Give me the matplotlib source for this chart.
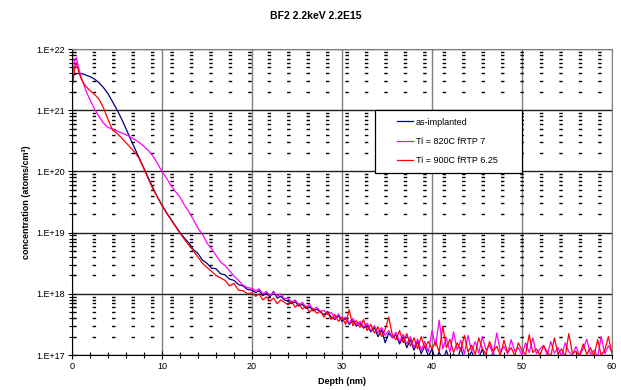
"""
BF2 2.2keV 2.2E15 - SIMS profiles, as-implanted vs. two fRTP anneals.
"""
import matplotlib
matplotlib.use("Agg")
import matplotlib.pyplot as plt
import numpy as np
from matplotlib.legend_handler import HandlerLine2D
from matplotlib.ticker import FixedLocator, FixedFormatter

plt.rcParams["font.family"] = ["Liberation Sans", "DejaVu Sans"]

TITLE = "BF2 2.2keV 2.2E15"
LABELS = ["as-implanted", "Ti = 820C fRTP 7", "Ti = 900C fRTP 6.25"]
COLORS = ["#000080", "#FF00FF", "#FF0000"]

# depth (nm): near-surface part, then the noisy tail on a 0.4 nm grid
depth_head = [0.1, 0.3, 0.5, 0.7, 1.0, 1.3, 1.6, 2.0, 2.5, 3.0, 3.5, 4.0, 4.5,
              5.0, 5.5, 6.0, 6.5, 7.0, 7.5, 8.0, 8.5, 9.0, 9.5, 10.0, 10.5,
              11.0, 11.5, 12.0, 12.5, 13.0, 13.5, 14.0, 14.5, 15.0, 15.5,
              16.0, 16.5, 17.0, 17.5, 18.0, 18.5, 19.0, 19.5]
depth_tail = np.linspace(20.0, 60.0, 101)

# log10 of concentration (atoms/cm3)
asimp_head = [21.57, 21.58, 21.60, 21.60, 21.60, 21.59, 21.57, 21.55, 21.51,
              21.45, 21.37, 21.27, 21.14, 21.01, 20.86, 20.70, 20.53, 20.37,
              20.21, 20.05, 19.89, 19.73, 19.58, 19.45, 19.33, 19.22, 19.11,
              19.00, 18.91, 18.83, 18.72, 18.66, 18.55, 18.50, 18.42, 18.41,
              18.33, 18.31, 18.24, 18.22, 18.15, 18.13, 18.07]
asimp_tail = [18.06, 18.02, 18.05, 17.97, 18.01, 17.95, 18.04, 17.93, 17.96, 17.90,
              17.88, 17.84, 17.87, 17.80, 17.83, 17.76, 17.79, 17.72, 17.75, 17.70,
              17.66, 17.71, 17.62, 17.58, 17.64, 17.55, 17.60, 17.50, 17.56, 17.47,
              17.52, 17.44, 17.48, 17.38, 17.45, 17.30, 17.41, 17.20, 17.36, 17.28,
              17.33, 17.18, 17.30, 17.12, 17.25, 17.08, 17.22, 17.02, 17.15, 16.98,
              17.10, 16.92, 17.05, 16.90, 17.08, 16.88, 17.02, 16.90, 17.12, 16.92,
              16.95, 17.06, 16.90, 16.96, 17.10, 16.88, 16.92, 17.04, 16.90, 16.88,
              16.90, 16.85, 16.88, 16.90, 16.86, 16.88, 16.85, 16.90, 16.86, 16.88,
              16.85, 16.84, 16.85, 16.84, 16.85, 16.84, 16.85, 16.84, 16.85, 16.84,
              16.85, 16.84, 16.85, 16.84, 16.85, 16.84, 16.85, 16.84, 16.85, 16.84,
              16.85]

t820_head = [21.60, 21.82, 21.86, 21.72, 21.55, 21.42, 21.30, 21.17, 21.02,
             20.90, 20.79, 20.72, 20.69, 20.66, 20.63, 20.60, 20.56, 20.52,
             20.47, 20.41, 20.34, 20.25, 20.13, 20.00, 19.89, 19.77, 19.67,
             19.58, 19.45, 19.34, 19.21, 19.07, 18.97, 18.83, 18.74, 18.63,
             18.52, 18.46, 18.38, 18.29, 18.22, 18.14, 18.10]
t820_tail = [18.09, 18.05, 18.08, 18.00, 18.04, 17.97, 18.03, 17.96, 18.00, 17.92,
             17.93, 17.86, 17.90, 17.82, 17.86, 17.78, 17.83, 17.74, 17.78, 17.71,
             17.73, 17.66, 17.70, 17.60, 17.67, 17.58, 17.62, 17.52, 17.60, 17.50,
             17.55, 17.46, 17.52, 17.40, 17.48, 17.36, 17.45, 17.32, 17.40, 17.28,
             17.37, 17.22, 17.34, 17.18, 17.30, 17.12, 17.26, 17.08, 17.22, 17.05,
             17.40, 17.15, 17.57, 17.10, 17.28, 17.05, 17.38, 17.08, 17.24, 17.02,
             17.32, 17.06, 17.22, 17.03, 17.30, 17.08, 17.16, 17.01, 17.36, 17.06,
             17.14, 17.02, 17.25, 17.06, 17.12, 17.00, 17.20, 17.04, 17.28, 17.02,
             17.10, 17.16, 16.99, 17.22, 17.03, 17.12, 16.98, 17.20, 17.05, 17.00,
             17.14, 16.99, 17.10, 17.26, 17.01, 17.08, 16.97, 17.30, 17.02, 17.15,
             17.05]

t900_head = [21.44, 21.70, 21.77, 21.65, 21.52, 21.44, 21.38, 21.32, 21.26,
             21.18, 21.04, 20.85, 20.68, 20.62, 20.55, 20.47, 20.39, 20.31,
             20.20, 20.04, 19.87, 19.71, 19.58, 19.44, 19.32, 19.21, 19.10,
             18.99, 18.89, 18.79, 18.70, 18.60, 18.50, 18.43, 18.37, 18.30,
             18.26, 18.22, 18.13, 18.17, 18.06, 18.05, 18.00]
t900_tail = [18.02, 17.96, 18.00, 17.90, 17.95, 17.88, 17.93, 17.84, 17.90, 17.86,
             17.82, 17.88, 17.78, 17.84, 17.75, 17.80, 17.70, 17.76, 17.68, 17.72,
             17.62, 17.70, 17.58, 17.66, 17.55, 17.62, 17.50, 17.74, 17.48, 17.56,
             17.45, 17.58, 17.40, 17.50, 17.36, 17.46, 17.30, 17.42, 17.62, 17.32,
             17.25, 17.40, 17.20, 17.35, 17.15, 17.28, 17.10, 17.30, 17.12, 17.22,
             17.10, 17.22, 17.05, 17.47, 17.12, 17.26, 17.04, 17.20, 17.08, 17.32,
             17.05, 17.16, 17.01, 17.28, 17.10, 17.02, 17.22, 17.06, 17.14, 17.00,
             17.24, 17.04, 17.12, 16.99, 17.20, 17.07, 17.01, 17.33, 17.04, 17.10,
             17.00, 17.15, 17.05, 16.98, 17.28, 17.02, 17.10, 16.97, 17.35, 17.03,
             17.06, 16.99, 17.18, 17.01, 17.12, 16.98, 17.25, 17.00, 17.08, 17.30,
             17.02]

YTICKS = [1e17, 1e18, 1e19, 1e20, 1e21, 1e22]
YTICK_LABELS = ["1.E+17", "1.E+18", "1.E+19", "1.E+20", "1.E+21", "1.E+22"]
XTICKS = [0, 10, 20, 30, 40, 50, 60]

depth = np.concatenate([depth_head, depth_tail])
series = [asimp_head + asimp_tail, t820_head + t820_tail, t900_head + t900_tail]

fig = plt.figure(figsize=(6.21, 3.90), dpi=100)
ax = fig.add_axes([0.1159, 0.0897, 0.8696, 0.7846])

for vals, lab, col in zip(series, LABELS, COLORS):
    ax.plot(depth, 10.0 ** np.array(vals), color=col, lw=0.9, label=lab)

ax.set_yscale("log")
ax.set_xlim(0, 60)
ax.set_ylim(1e17, 1e22)

ax.yaxis.set_major_locator(FixedLocator(YTICKS))
ax.yaxis.set_major_formatter(FixedFormatter(YTICK_LABELS))
minor_y = [m * 10.0 ** e for e in range(17, 22) for m in range(2, 10)]
ax.yaxis.set_minor_locator(FixedLocator(minor_y))
ax.yaxis.set_minor_formatter(FixedFormatter([""] * len(minor_y)))
ax.set_xticks(XTICKS)
ax.set_xticks(np.arange(0, 61, 2), minor=True)

# excel style grid: solid majors, short dashes on the minor decades
ax.grid(axis="x", which="major", color="#808080", lw=1.0)
ax.grid(axis="y", which="major", color="#202020", lw=1.0)
ax.grid(axis="y", which="minor", color="black", lw=1.0,
        linestyle=(13.5, (2.5, 11.5)))
ax.set_axisbelow(True)

ax.tick_params(which="major", direction="inout", length=6, width=0.8,
               labelsize=6.5, pad=2)
ax.tick_params(which="minor", direction="inout", length=4, width=0.8)
for side in ("top", "right"):
    ax.spines[side].set_color("#808080")
for side in ("left", "bottom"):
    ax.spines[side].set_color("black")

fig.suptitle(TITLE, x=0.509, y=0.96, fontsize=7.5, fontweight="bold",
             va="center")
ax.set_xlabel("Depth (nm)", fontsize=6.5, fontweight="bold", labelpad=4)
ax.set_ylabel("concentration (atoms/cm³)", fontsize=6.5, fontweight="bold",
              labelpad=4)

leg = ax.legend(loc="upper left", bbox_to_anchor=(0.561, 0.801, 0.272, 0.0),
                mode="expand", fontsize=6.5, frameon=True, fancybox=False,
                edgecolor="black", framealpha=1.0, borderaxespad=0,
                borderpad=0.85, labelspacing=1.15, handlelength=3.4,
                handletextpad=0.3,
                handler_map={plt.Line2D: HandlerLine2D(xpad=1.6)})
leg.get_frame().set_linewidth(0.9)

fig.savefig("out.png", dpi=100)
